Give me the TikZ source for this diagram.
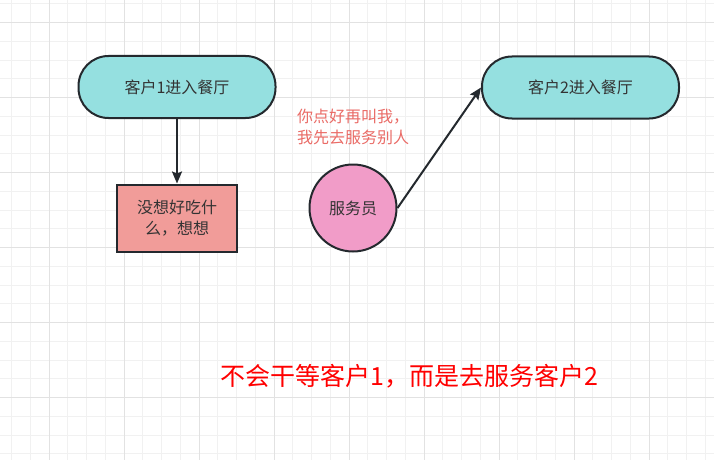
\documentclass[tikz,border=0pt]{standalone}
\usepackage{fontspec}
\newfontfamily\cjk{Noto Sans CJK SC}
\usetikzlibrary{arrows.meta}

\definecolor{gridminor}{HTML}{F1F1F1}
\definecolor{gridmajor}{HTML}{E2E2E2}
\definecolor{edge}{HTML}{24292E}
\definecolor{guestfill}{HTML}{95E0E0}
\definecolor{thinkfill}{HTML}{F19C99}
\definecolor{waiterfill}{HTML}{F19CC8}
\definecolor{notered}{HTML}{EA6B66}
\definecolor{bigred}{HTML}{FF0000}

\begin{document}
\begin{tikzpicture}[x=1pt,y=-1pt,
    shape box/.style={draw=edge,line width=2pt,text=black!80,
      font=\cjk\fontsize{16}{21}\selectfont,align=center},
    stadium/.style={shape box,fill=guestfill,rectangle,rounded corners=30pt,
      minimum width=197pt,minimum height=62pt},
    thinkbox/.style={shape box,fill=thinkfill,rectangle,
      minimum width=120pt,minimum height=67pt},
    waiter/.style={shape box,fill=waiterfill,circle,minimum size=87pt,inner sep=0pt},
    arr/.style={draw=edge,line width=2pt,-{Stealth[length=12pt,width=10pt,inset=2pt]}},
    note/.style={text=notered,font=\cjk\fontsize{16}{21}\selectfont,align=left,inner sep=0pt},
    bigtext/.style={text=bigred,font=\cjk\fontsize{25}{30}\selectfont,inner sep=0pt}]
        \useasboundingbox (0,0) rectangle (714,460);
        \fill[white] (0,0) rectangle (714,460);
        % background grid
        \foreach \i in {0,...,37}
          \draw[gridminor,line width=1pt] (11.7+18.75*\i,0) -- (11.7+18.75*\i,460);
        \foreach \j in {0,...,24}
          \draw[gridminor,line width=1pt] (0,3.9+18.75*\j) -- (714,3.9+18.75*\j);
        \foreach \i in {2,6,...,34}
          \draw[gridmajor,line width=1pt] (11.7+18.75*\i,0) -- (11.7+18.75*\i,460);
        \foreach \j in {1,5,...,21}
          \draw[gridmajor,line width=1pt] (0,3.9+18.75*\j) -- (714,3.9+18.75*\j);

        \node[stadium] (guest1) at (177,87) {客户1进入餐厅};
        \node[stadium] (guest2) at (580.5,87.5) {客户2进入餐厅};
        \node[thinkbox] (think) at (177,218) {没想好吃什\\么，想想};
        \node[waiter] (waiter) at (353,208) {服务员};

        \draw[arr] (guest1) -- (think);
        \draw[arr] (waiter.east) -- (guest2.west);

        \node[note,anchor=west] (note) at (297,127) {你点好再叫我，\\我先去服务别人};
        \node[bigtext] (slogan) at (409.5,376) {不会干等客户1，而是去服务客户2};
      \end{tikzpicture}
\end{document}
